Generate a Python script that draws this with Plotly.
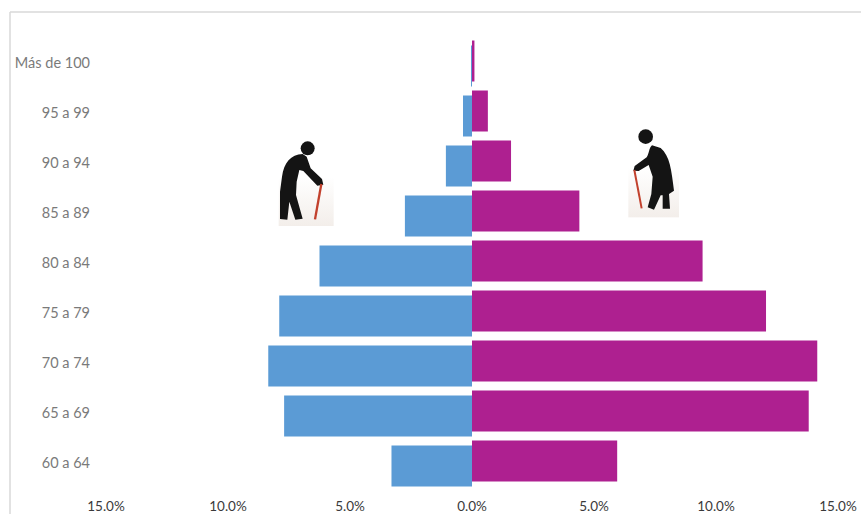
import base64
import plotly.graph_objects as go

# Population share by age group (percent); men are plotted to the left of zero
age_groups = ["60 a 64", "65 a 69", "70 a 74", "75 a 79", "80 a 84", "85 a 89", "90 a 94", "95 a 99", "Más de 100"]
men = [3.3, 7.7, 8.35, 7.9, 6.25, 2.75, 1.07, 0.37, 0.04]
women = [5.95, 13.8, 14.15, 12.05, 9.45, 4.4, 1.6, 0.65, 0.1]

tick_values = [-15, -10, -5, 0, 5, 10, 15]
tick_labels = ["15.0%", "10.0%", "5.0%", "0.0%", "5.0%", "10.0%", "15.0%"]

BLUE = "#5b9bd5"
MAGENTA = "#ae2090"
CANE = "#c2412d"
INK = "#141414"

W, H = 861, 514
L, R, T, B = 106, 23, 38, 26


def svg_uri(body):
    # Pale backing patch that fades in towards the feet of the figure
    defs = ('<defs><linearGradient id="g" x1="0" y1="0" x2="0" y2="1">'
            '<stop offset="0.45" stop-color="#ffffff"/><stop offset="1" stop-color="#f3eeea"/>'
            '</linearGradient></defs>')
    svg = (f'<svg xmlns="http://www.w3.org/2000/svg" viewBox="0 0 270 330" width="90" height="110">'
           f'{defs}{body}</svg>')
    return "data:image/svg+xml;base64," + base64.b64encode(svg.encode("utf-8")).decode()


# Pictograms of an elderly man and woman walking with a cane
man_icon = svg_uri(
    '<rect x="56" y="50" width="165" height="268" fill="url(#g)"/>'
    f'<circle cx="143" cy="85" r="21" fill="{INK}"/>'
    f'<path d="M128 102 C92 104 72 128 66 170 L60 215 L60 297 L82 299 L88 245 L106 299 L128 296 '
    f'L108 225 L110 185 L118 150 L130 153 L172 197 L190 194 L186 177 L152 145 L140 110 Z" fill="{INK}"/>'
    f'<path d="M184 192 L165 298" stroke="{CANE}" stroke-width="7" fill="none"/>'
)
woman_icon = svg_uri(
    '<rect x="55" y="20" width="152" height="272" fill="url(#g)"/>'
    f'<circle cx="107" cy="50" r="22" fill="{INK}"/>'
    f'<path d="M126 76 C116 85 118 100 110 112 L74 138 L70 152 L86 153 L116 135 L128 170 L124 222 '
    f'L113 262 L132 269 L152 226 L158 226 L158 266 L180 266 L177 222 L192 212 C184 150 180 108 152 84 Z" fill="{INK}"/>'
    f'<path d="M73 150 L95 265" stroke="{CANE}" stroke-width="6" fill="none"/>'
)


def px(x):
    return (x - L) / (W - L - R)


def py(y):
    return 1 - (y - T) / (H - T - B)


fig = go.Figure()
fig.add_bar(y=age_groups, x=[-v for v in men], orientation="h", width=0.82, offset=-0.47,
            marker=dict(color=BLUE, line=dict(width=0)), name="Hombres")
fig.add_bar(y=age_groups, x=women, orientation="h", width=0.82, offset=-0.37,
            marker=dict(color=MAGENTA, line=dict(width=0)), name="Mujeres")

fig.update_layout(
    width=W, height=H, margin=dict(l=L, r=R, t=T, b=B, autoexpand=False),
    barmode="overlay", showlegend=False,
    paper_bgcolor="white", plot_bgcolor="white",
    font=dict(family="Lato, Open Sans, sans-serif"),
    shapes=[
        dict(type="line", xref="paper", yref="paper", x0=px(10), x1=px(861), y0=py(12), y1=py(12),
             line=dict(color="#d9d9d9", width=1.5)),
        dict(type="line", xref="paper", yref="paper", x0=px(10), x1=px(10), y0=py(12), y1=py(514),
             line=dict(color="#d9d9d9", width=1.5)),
    ],
    images=[
        dict(source=man_icon, xref="paper", yref="paper", x=px(260), y=py(120),
             sizex=90 / (W - L - R), sizey=110 / (H - T - B), xanchor="left", yanchor="top",
             sizing="stretch", layer="above"),
        dict(source=woman_icon, xref="paper", yref="paper", x=px(610), y=py(120),
             sizex=90 / (W - L - R), sizey=110 / (H - T - B), xanchor="left", yanchor="top",
             sizing="stretch", layer="above"),
    ],
)
fig.update_xaxes(range=[-15, 15], tickvals=tick_values, ticktext=tick_labels, showgrid=False, zeroline=False,
                 showline=False, ticks="", ticklabelstandoff=8, automargin=False,
                 tickfont=dict(size=13.5, color="#3a3a3a"), tickangle=0)
fig.update_yaxes(type="category", categoryorder="array", categoryarray=age_groups, range=[-0.5, 8.5],
                 showgrid=False, zeroline=False, showline=False, ticks="", ticklabelstandoff=15, automargin=False,
                 tickfont=dict(size=14.5, color="#7a7a7a"))

fig.write_html("out.html")
